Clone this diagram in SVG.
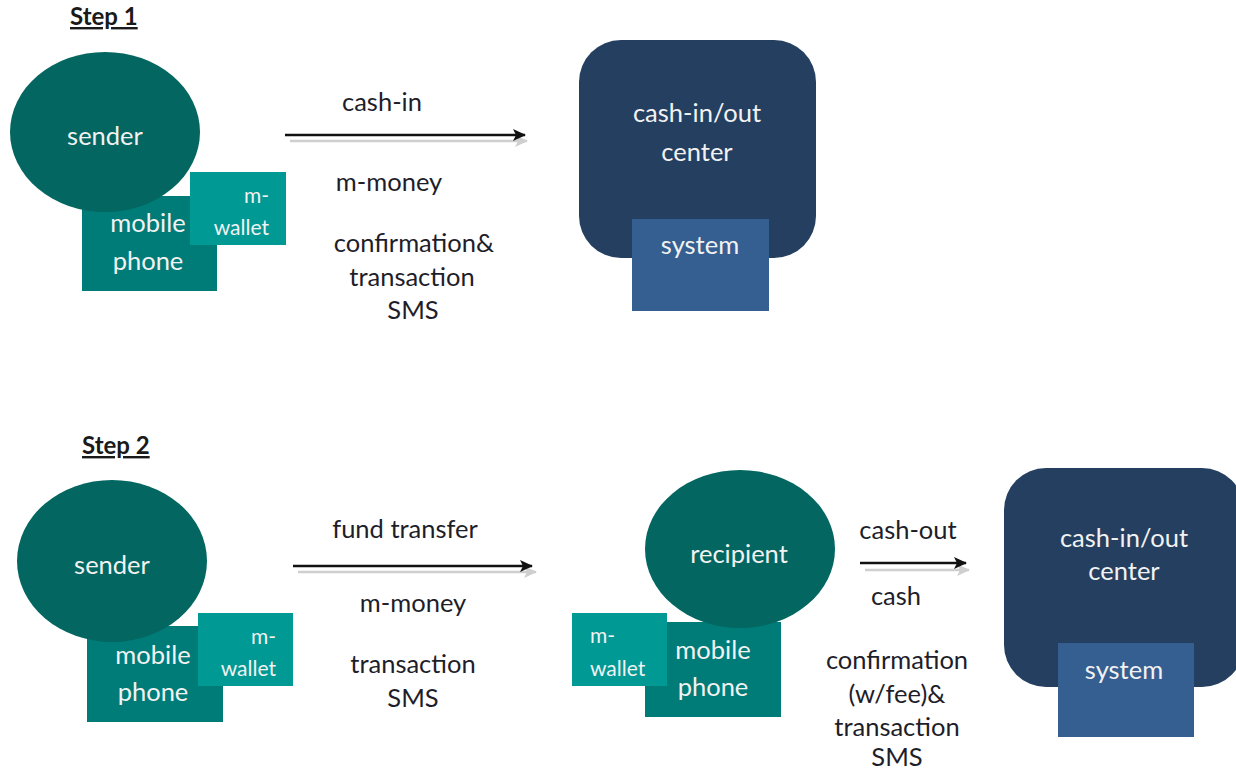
<svg xmlns="http://www.w3.org/2000/svg" width="1236" height="769" viewBox="0 0 1236 769">
  <style>
    text { font-family: Lato, "Open Sans", "Liberation Sans", sans-serif; }
    .person { fill: #036660; }
    .phone { fill: #007C78; }
    .wallet { fill: #009994; }
    .center { fill: #243F60; }
    .system { fill: #365F91; }
    .lt { fill: #F2F2F2; font-size: 25.5px; }
    .sm { fill: #F2F2F2; font-size: 21px; }
    .lbl { fill: #1E1E2A; font-size: 25.5px; text-anchor: middle; }
    .step { fill: #1A1A1A; font-size: 24px; font-weight: bold; text-decoration: underline; }
    .mid { text-anchor: middle; }
    .end { text-anchor: end; }
    .line { stroke: #111; stroke-width: 2.4; fill: none; }
    .shadow { stroke: #CFCFCF; stroke-width: 2.4; fill: none; }
  </style>
  <defs>
    <marker id="head" markerWidth="14" markerHeight="12" refX="12" refY="6" orient="auto" markerUnits="userSpaceOnUse">
      <path d="M0,0 L13,6 L0,12 L3,6 Z" fill="#111"/>
    </marker>
    <marker id="headShadow" markerWidth="14" markerHeight="12" refX="12" refY="6" orient="auto" markerUnits="userSpaceOnUse">
      <path d="M0,0 L13,6 L0,12 L3,6 Z" fill="#CFCFCF"/>
    </marker>
  </defs>

  <rect width="1236" height="769" fill="#FFFFFF"/>

  <!-- step headings -->
  <text class="step" x="70" y="25">Step 1</text>
  <text class="step" x="82" y="454">Step 2</text>

  <!-- Step 1: sender with phone and wallet -->
  <g id="s1-phone">
    <rect class="phone" x="82" y="196" width="135" height="95"/>
    <text class="lt mid" x="148" y="232">mobile</text>
    <text class="lt mid" x="148" y="270">phone</text>
  </g>
  <g id="s1-sender">
    <ellipse class="person" cx="105" cy="132" rx="95" ry="80"/>
    <text class="lt mid" x="105" y="145">sender</text>
  </g>
  <g id="s1-wallet">
    <rect class="wallet" x="190" y="172" width="96" height="73"/>
    <text class="sm end" x="269" y="203">m-</text>
    <text class="sm end" x="269" y="235">wallet</text>
  </g>

  <!-- Step 1: cash-in/out center -->
  <g id="s1-center">
    <rect class="center" x="579" y="40" width="237" height="218" rx="42" ry="42"/>
    <text class="lt mid" x="697" y="122">cash-in/out</text>
    <text class="lt mid" x="697" y="161">center</text>
  </g>
  <g id="s1-system">
    <rect class="system" x="632" y="219" width="137" height="92"/>
    <text class="lt mid" x="700" y="254">system</text>
  </g>

  <!-- Step 2: sender with phone and wallet -->
  <g id="s2-phone">
    <rect class="phone" x="87" y="626" width="136" height="96"/>
    <text class="lt mid" x="153" y="664">mobile</text>
    <text class="lt mid" x="153" y="701">phone</text>
  </g>
  <g id="s2-sender">
    <ellipse class="person" cx="112" cy="561" rx="95" ry="81"/>
    <text class="lt mid" x="112" y="574">sender</text>
  </g>
  <g id="s2-wallet">
    <rect class="wallet" x="198" y="613" width="95" height="73"/>
    <text class="sm end" x="276" y="644">m-</text>
    <text class="sm end" x="276" y="676">wallet</text>
  </g>

  <!-- Step 2: recipient with phone and wallet -->
  <g id="s2-recipient-phone">
    <rect class="phone" x="645" y="622" width="136" height="95"/>
    <text class="lt mid" x="713" y="659">mobile</text>
    <text class="lt mid" x="713" y="696">phone</text>
  </g>
  <g id="s2-recipient">
    <ellipse class="person" cx="740" cy="549" rx="95" ry="79"/>
    <text class="lt mid" x="739" y="563">recipient</text>
  </g>
  <g id="s2-recipient-wallet">
    <rect class="wallet" x="572" y="613" width="95" height="73"/>
    <text class="sm" x="590" y="643">m-</text>
    <text class="sm" x="590" y="676">wallet</text>
  </g>

  <!-- Step 2: cash-in/out center -->
  <g id="s2-center">
    <rect class="center" x="1004" y="468" width="240" height="219" rx="42" ry="42"/>
    <text class="lt mid" x="1124" y="547">cash-in/out</text>
    <text class="lt mid" x="1124" y="580">center</text>
  </g>
  <g id="s2-system">
    <rect class="system" x="1058" y="643" width="136" height="94"/>
    <text class="lt mid" x="1124" y="679">system</text>
  </g>

  <!-- flow arrows with soft drop shadow -->
  <g id="connectors">
    <line class="shadow" x1="290" y1="141" x2="527" y2="141" marker-end="url(#headShadow)"/>
    <line class="line" x1="285" y1="135" x2="525" y2="135" marker-end="url(#head)"/>

    <line class="shadow" x1="298" y1="572" x2="536" y2="572" marker-end="url(#headShadow)"/>
    <line class="line" x1="293" y1="566" x2="532" y2="566" marker-end="url(#head)"/>

    <line class="shadow" x1="865" y1="570" x2="969" y2="570" marker-end="url(#headShadow)"/>
    <line class="line" x1="860" y1="563" x2="966" y2="563" marker-end="url(#head)"/>
  </g>

  <!-- flow labels -->
  <g id="labels">
    <text class="lbl" x="382" y="111">cash-in</text>
    <text class="lbl" x="389" y="191">m-money</text>
    <text class="lbl" x="414" y="252">confirmation&amp;</text>
    <text class="lbl" x="412" y="286">transaction</text>
    <text class="lbl" x="413" y="319">SMS</text>

    <text class="lbl" x="405" y="538">fund transfer</text>
    <text class="lbl" x="413" y="612">m-money</text>
    <text class="lbl" x="413" y="673">transaction</text>
    <text class="lbl" x="413" y="707">SMS</text>

    <text class="lbl" x="908" y="539">cash-out</text>
    <text class="lbl" x="896" y="605">cash</text>
    <text class="lbl" x="897" y="669">confirmation</text>
    <text class="lbl" x="897" y="703">(w/fee)&amp;</text>
    <text class="lbl" x="897" y="736">transaction</text>
    <text class="lbl" x="897" y="766">SMS</text>
  </g>
</svg>
